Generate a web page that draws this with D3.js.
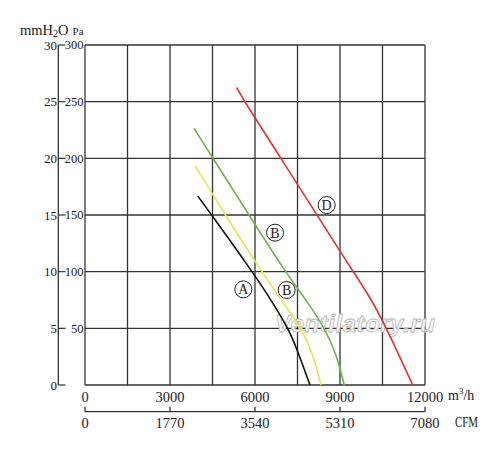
<!DOCTYPE html>
<html>
<head>
<meta charset="utf-8">
<script src="https://cdn.jsdelivr.net/npm/d3@7"></script>
<style>
  body { margin: 0; background: #fff; }
  svg { display: block; }
  text { font-family: "Liberation Serif", "DejaVu Serif", serif; fill: #222; }
</style>
</head>
<body>
<svg id="chart" width="500" height="450"></svg>
<script>
// fan curves: flow in m3/h, pressure in Pa
const flowA = [3978, 4472, 5905, 6529, 7176, 7493, 7941];
const paA   = [166.8, 150, 100, 76.5, 50, 30.9, 0];
const flowB1 = [3882, 4950, 6235, 6882, 7647, 8059, 8329];
const paB1   = [193.5, 150, 100, 76.5, 50, 26.5, 0];
const flowB2 = [3847, 4520, 5790, 7059, 7765, 8471, 8882, 9151];
const paB2   = [226.5, 200, 150, 100, 76.5, 50, 26.5, 0];
const flowD = [5347, 5629, 6918, 8188, 8975, 9469, 10119, 10648, 11566];
const paD   = [262.7, 250, 200, 150, 119, 100, 75, 50, 0];

const flowTicks = [0, 3000, 6000, 9000, 12000];
const flowGrid = [0, 1500, 3000, 4500, 6000, 7500, 9000, 10500, 12000];
const cfmTicks = [0, 1770, 3540, 5310, 7080];
const paTicks = [50, 100, 150, 200, 250, 300];
const mmTicks = [0, 5, 10, 15, 20, 25, 30];

// curve name labels: [letter, flow, Pa]
const labels = [["A", 5588, 84.4], ["B", 6706, 134.4], ["B", 7118, 83.8], ["D", 8530, 158.8]];

const svg = d3.select("#chart");
const pLeft = 85, pRight = 425, pTop = 45, pBottom = 385;

const x = d3.scaleLinear().domain([0, 12000]).range([pLeft, pRight]);
const y = d3.scaleLinear().domain([0, 300]).range([pBottom, pTop]);
const yMm = d3.scaleLinear().domain([0, 30]).range([pBottom, pTop]);
const xCfm = d3.scaleLinear().domain([0, 7080]).range([pLeft, pRight]);

// grid
svg.append("g").selectAll("line").data(flowGrid).join("line")
  .attr("x1", d => x(d)).attr("x2", d => x(d))
  .attr("y1", pTop).attr("y2", pBottom)
  .attr("stroke", "#333").attr("stroke-width", 1.3);
svg.append("g").selectAll("line").data([0].concat(paTicks)).join("line")
  .attr("x1", pLeft).attr("x2", pRight)
  .attr("y1", d => y(d)).attr("y2", d => y(d))
  .attr("stroke", "#333").attr("stroke-width", 1.3);

// watermark
svg.append("text")
  .attr("x", 275).attr("y", 332)
  .attr("textLength", 160)
  .style("font-family", "'Liberation Sans', Arial, sans-serif")
  .style("font-weight", "bold").style("font-style", "italic")
  .style("font-size", "24px")
  .style("fill", "#f6f6f6").style("stroke", "#b8b8b8").style("stroke-width", 0.8)
  .text("Ventilatory.ru");

// left mmH2O axis
const lx = 58.3;
svg.append("line").attr("x1", lx).attr("x2", lx).attr("y1", pTop).attr("y2", pBottom)
  .attr("stroke", "#333").attr("stroke-width", 1.3);
svg.append("g").selectAll("line").data(mmTicks).join("line")
  .attr("x1", lx).attr("x2", 65.5)
  .attr("y1", d => yMm(d)).attr("y2", d => yMm(d))
  .attr("stroke", "#333").attr("stroke-width", 1.2);
svg.append("g").selectAll("text").data(mmTicks).join("text")
  .attr("x", 57).attr("y", d => yMm(d)).attr("dy", "0.35em")
  .attr("text-anchor", "end").style("font-size", "13px")
  .text(d => d);
svg.append("g").selectAll("text").data(paTicks).join("text")
  .attr("x", 83.5).attr("y", d => y(d)).attr("dy", "0.35em")
  .attr("text-anchor", "end").style("font-size", "12.5px")
  .text(d => d);

// unit title
const title = svg.append("text").attr("x", 20).attr("y", 35).style("font-size", "14.5px");
title.append("tspan").text("mmH");
title.append("tspan").attr("dy", 2).style("font-size", "10px").text("2");
title.append("tspan").attr("dy", -2).text("O");
title.append("tspan").attr("dx", 4).style("font-size", "11px").text("Pa");

// bottom m3/h labels
svg.append("g").selectAll("text").data(flowTicks).join("text")
  .attr("x", d => x(d)).attr("y", 402)
  .attr("text-anchor", "middle").style("font-size", "14.5px")
  .text(d => d);
const unit = svg.append("text").attr("x", 448).attr("y", 400).style("font-size", "14px");
unit.append("tspan").text("m");
unit.append("tspan").attr("dy", -6).style("font-size", "9px").text("3");
unit.append("tspan").attr("dy", 6).text("/h");

// CFM axis
const cy = 411.7;
svg.append("line").attr("x1", pLeft).attr("x2", pRight).attr("y1", cy).attr("y2", cy)
  .attr("stroke", "#333").attr("stroke-width", 1.3);
svg.append("g").selectAll("line").data(cfmTicks).join("line")
  .attr("x1", d => xCfm(d)).attr("x2", d => xCfm(d))
  .attr("y1", cy - 5).attr("y2", cy)
  .attr("stroke", "#333").attr("stroke-width", 1.3);
svg.append("g").selectAll("text").data(cfmTicks).join("text")
  .attr("x", d => xCfm(d)).attr("y", 428)
  .attr("text-anchor", "middle").style("font-size", "14.5px")
  .text(d => d);
svg.append("text").attr("x", 455).attr("y", 426.5)
  .attr("textLength", 23).attr("lengthAdjust", "spacingAndGlyphs")
  .style("font-size", "14px").text("CFM");

// curves
const line = d3.line()
  .x(d => x(d[0])).y(d => y(d[1]))
  .curve(d3.curveBasis);
const curves = [
  [flowA, paA, "#111111"],
  [flowB1, paB1, "#e6e64e"],
  [flowB2, paB2, "#68b84a"],
  [flowD, paD, "#e2342c"]
];
curves.forEach(([f, p, c]) => {
  svg.append("path")
    .datum(f.map((v, i) => [v, p[i]]))
    .attr("d", line)
    .attr("fill", "none")
    .attr("stroke", c)
    .attr("stroke-width", 1.6);
});

// circled letters
const lab = svg.append("g").selectAll("g").data(labels).join("g")
  .attr("transform", d => `translate(${x(d[1])},${y(d[2])})`);
lab.append("circle").attr("r", 8.5).attr("fill", "#fff")
  .attr("stroke", "#222").attr("stroke-width", 1);
lab.append("text").attr("text-anchor", "middle").attr("dy", "0.36em")
  .style("font-size", "14px").text(d => d[0]);
</script>
</body>
</html>
